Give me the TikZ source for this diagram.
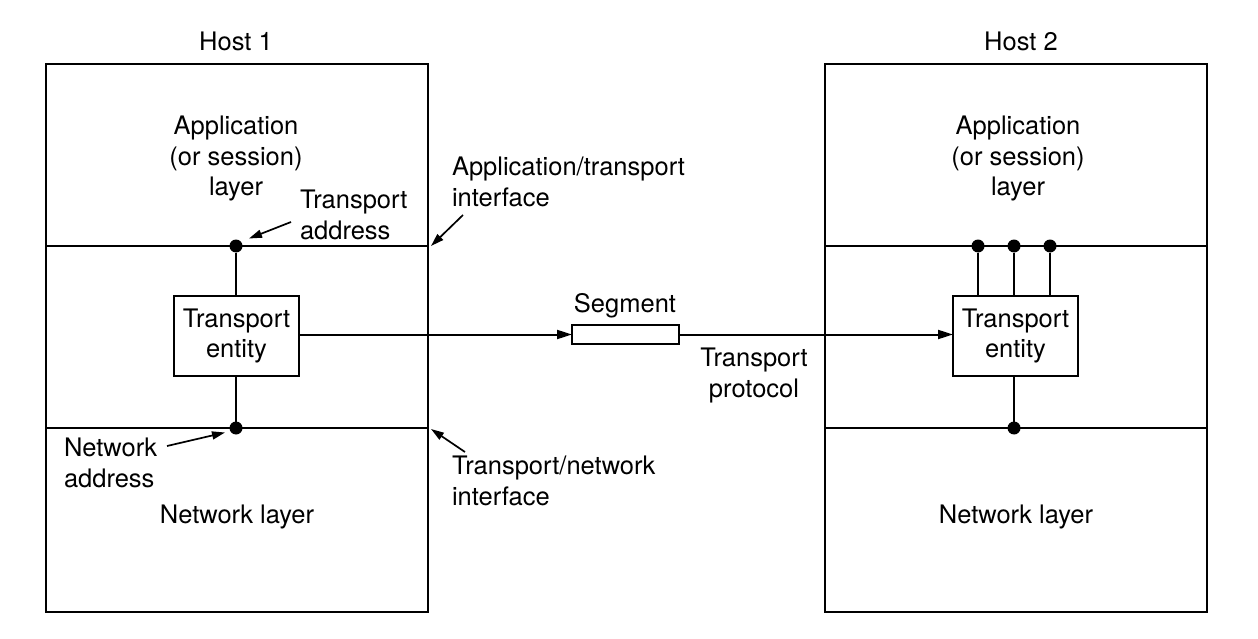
\documentclass[tikz,border=0pt]{standalone}
\usepackage{fontspec}
\setmainfont{TeX Gyre Heros}
\usetikzlibrary{arrows.meta}
\begin{document}
\begin{tikzpicture}[x=1pt,y=-1pt,
  every node/.style={inner sep=0pt, outer sep=0pt, font=\fontsize{25.5}{30.5}\selectfont},
  hostbox/.style={draw, line width=2pt, minimum width=382pt, minimum height=548pt},
  layerline/.style={line width=2.8pt},
  entity/.style={draw, line width=2pt, minimum width=125pt, minimum height=80pt, align=center, fill=white},
  segbox/.style={draw, line width=2pt, minimum width=107pt, minimum height=19pt},
  dotn/.style={circle, fill=black, minimum size=13pt},
  conn/.style={line width=2pt},
  arr/.style={line width=2pt, -{Triangle[length=15pt,width=9pt]}},
  note/.style={line width=1.7pt, -{Triangle[length=13pt,width=8pt]}},
  lbl/.style={align=center},
  lbll/.style={align=left, anchor=west}]
\useasboundingbox (0,0) rectangle (1258,639);
\fill[white] (0,0) rectangle (1258,639);
% hosts
\node[hostbox] (host1) at (237,338) {};
\node[hostbox] (host2) at (1015.5,338) {};
\node[anchor=base] (h1t) at (236,51) {Host 1};
\node[anchor=base] (h2t) at (1021,51) {Host 2};
% layer lines
\coordinate (h1a) at (46,246); \coordinate (h1b) at (428,246);
\coordinate (h1c) at (46,428); \coordinate (h1d) at (428,428);
\coordinate (h2a) at (824,246); \coordinate (h2b) at (1207,246);
\coordinate (h2c) at (824,428); \coordinate (h2d) at (1207,428);
\draw[layerline] (h1a) -- (h1b);
\draw[layerline] (h1c) -- (h1d);
\draw[layerline] (h2a) -- (h2b);
\draw[layerline] (h2c) -- (h2d);
% layer texts
\node[lbl] (app1) at (236,158.5) {Application\\(or session)\\layer};
\node[lbl] (app2) at (1018,158.5) {Application\\(or session)\\layer};
\node[anchor=base] (net1) at (237,523) {Network layer};
\node[anchor=base] (net2) at (1016,523) {Network layer};
% transport entities
\node[entity] (te1) at (236.5,336) {Transport\\entity};
\node[entity] (te2) at (1015.5,336) {Transport\\entity};
% dots
\node[dotn] (ta1) at (236,246) {};
\node[dotn] (na1) at (236,428) {};
\node[dotn] (ta2a) at (978,246) {};
\node[dotn] (ta2b) at (1014,246) {};
\node[dotn] (ta2c) at (1050,246) {};
\node[dotn] (na2) at (1014,428) {};
\draw[conn] (ta1) -- (te1.north -| ta1);
\draw[conn] (na1) -- (te1.south -| na1);
\draw[conn] (ta2a) -- (te2.north -| ta2a);
\draw[conn] (ta2b) -- (te2.north -| ta2b);
\draw[conn] (ta2c) -- (te2.north -| ta2c);
\draw[conn] (na2) -- (te2.south -| na2);
% segment
\node[segbox] (seg) at (625.5,334.5) {};
\node[anchor=base] (segt) at (625,312) {Segment};
\draw[arr] (te1.east |- seg.west) -- (seg.west);
\draw[arr] (seg.east) -- (te2.west |- seg.east);
\node[lbl] (tp) at (754,375.5) {Transport\\protocol};
% annotations
\node[lbll] (taddr) at (300,215) {Transport\\address};
\node[lbll] (ati) at (452,182) {Application/transport\\interface};
\node[lbll] (naddr) at (64,463) {Network\\address};
\node[lbll] (tni) at (452,481) {Transport/network\\interface};
\coordinate (taS) at (291,222); \coordinate (taE) at (249,238.5);
\coordinate (atiS) at (463,215); \coordinate (atiE) at (431,246);
\coordinate (naS) at (167,446); \coordinate (naE) at (225,432.5);
\coordinate (tniS) at (465,452); \coordinate (tniE) at (431,429);
\draw[note] (taS) -- (taE);
\draw[note] (atiS) -- (atiE);
\draw[note] (naS) -- (naE);
\draw[note] (tniS) -- (tniE);
\end{tikzpicture}
\end{document}
